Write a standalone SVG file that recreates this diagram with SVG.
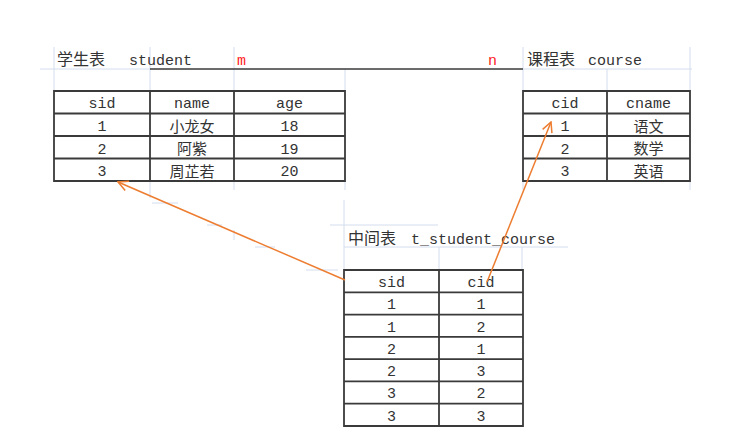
<svg xmlns="http://www.w3.org/2000/svg" width="746" height="434" viewBox="0 0 746 434">
<defs>
<style>
.grid{stroke:#d4dcec;stroke-width:1;fill:none}
.tb{stroke:#3a3a3a;stroke-width:1.8;fill:none}
.t{font-family:"Liberation Mono","Noto Sans CJK SC",monospace;font-size:15px;fill:#333;text-anchor:middle}
.c{font-family:"Noto Sans CJK SC","Liberation Mono",sans-serif;font-size:15px;fill:#333;text-anchor:middle}
.h{font-family:"Liberation Mono","Noto Sans CJK SC",monospace;font-size:15px;fill:#333}
.hc{font-family:"Noto Sans CJK SC",sans-serif;font-size:16px;fill:#333}
.red{font-family:"Liberation Mono",monospace;font-size:15px;fill:#f22}
.conn{stroke:#ed7d31;stroke-width:1.5;fill:none}
</style>
<marker id="ah" viewBox="0 0 12 12" refX="11" refY="6" markerWidth="12" markerHeight="12" markerUnits="userSpaceOnUse" orient="auto">
<path d="M1,1 L11,6 L1,11" fill="none" stroke="#ed7d31" stroke-width="1.5"/>
</marker>
</defs>
<rect width="746" height="434" fill="#fff"/>

<g id="gridlines">
<path class="grid" d="M40,69H150 M54,47V91 M150,47V91 M234,47V91 M345,69V91 M523,69H692 M523,47V91 M607,69V91 M690,47V91 M150,181V198 M234,181V190 M345,181V190 M152,203H178 M207,225H222 M234,230V240 M255,247H275 M306,270H338 M330,225H438 M344,200V270 M344,247H568 M439,247V270 M522,247V270 M690,181V190 M523,181V190"/>
</g>

<g id="student">
<text class="hc" x="57" y="65">学生表</text>
<text class="h" x="129" y="65">student</text>
<path class="tb" d="M54,91H345V181H54Z M54,113.5H345 M54,136H345 M54,158.5H345 M150,91V181 M234,91V181"/>
<text class="t" x="102" y="108">sid</text>
<text class="t" x="192" y="108">name</text>
<text class="t" x="289.5" y="108">age</text>
<text class="t" x="102" y="131">1</text>
<text class="c" x="192" y="131.5">小龙女</text>
<text class="t" x="289.5" y="131">18</text>
<text class="t" x="102" y="153.5">2</text>
<text class="c" x="192" y="154">阿紫</text>
<text class="t" x="289.5" y="153.5">19</text>
<text class="t" x="102" y="176">3</text>
<text class="c" x="192" y="176.5">周芷若</text>
<text class="t" x="289.5" y="176">20</text>
</g>

<g id="relation">
<line x1="150" y1="69" x2="523" y2="69" stroke="#3a3a3a" stroke-width="1.5"/>
<text class="red" x="237" y="65">m</text>
<text class="red" x="488" y="65">n</text>
</g>

<g id="course">
<text class="hc" x="527" y="65">课程表</text>
<text class="h" x="588" y="65">course</text>
<path class="tb" d="M523,91H690V181H523Z M523,113.5H690 M523,136H690 M523,158.5H690 M607,91V181"/>
<text class="t" x="565" y="108">cid</text>
<text class="t" x="648.5" y="108">cname</text>
<text class="t" x="565" y="131">1</text>
<text class="c" x="648.5" y="131.5">语文</text>
<text class="t" x="565" y="153.5">2</text>
<text class="c" x="648.5" y="154">数学</text>
<text class="t" x="565" y="176">3</text>
<text class="c" x="648.5" y="176.5">英语</text>
</g>

<g id="t_student_course">
<text class="hc" x="348" y="244">中间表</text>
<text class="h" x="411" y="244">t_student_course</text>
<path class="tb" d="M344,270H523V426H344Z M344,292.3H523 M344,314.6H523 M344,336.9H523 M344,359.1H523 M344,381.4H523 M344,403.7H523 M439,270V426"/>
<text class="t" x="391.5" y="287">sid</text>
<text class="t" x="481" y="287">cid</text>
<text class="t" x="391.5" y="309">1</text><text class="t" x="481" y="309">1</text>
<text class="t" x="391.5" y="331.5">1</text><text class="t" x="481" y="331.5">2</text>
<text class="t" x="391.5" y="353.5">2</text><text class="t" x="481" y="353.5">1</text>
<text class="t" x="391.5" y="376">2</text><text class="t" x="481" y="376">3</text>
<text class="t" x="391.5" y="398">3</text><text class="t" x="481" y="398">2</text>
<text class="t" x="391.5" y="420.5">3</text><text class="t" x="481" y="420.5">3</text>
</g>

<g id="connectors">
<line class="conn" x1="345" y1="280" x2="118" y2="182" marker-end="url(#ah)"/>
<line class="conn" x1="487" y1="282" x2="551" y2="122" marker-end="url(#ah)"/>
</g>
</svg>
